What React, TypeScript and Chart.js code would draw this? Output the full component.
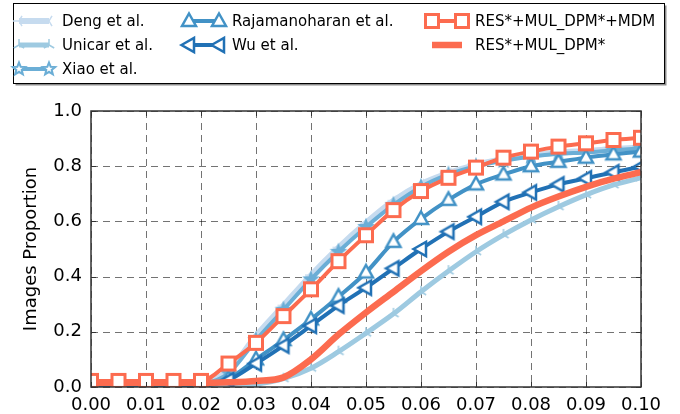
import React, { useEffect, useRef } from 'react';
import { Chart, registerables } from 'chart.js';

Chart.register(...registerables);

// ---------- data ----------
const xValues = [0, 0.005, 0.01, 0.015, 0.02, 0.025, 0.03, 0.035, 0.04, 0.045, 0.05,
  0.055, 0.06, 0.065, 0.07, 0.075, 0.08, 0.085, 0.09, 0.095, 0.1];

const dengValues = [0.005, 0.005, 0.005, 0.005, 0.012, 0.06, 0.185, 0.295, 0.405, 0.505, 0.595,
  0.675, 0.735, 0.775, 0.805, 0.825, 0.84, 0.85, 0.855, 0.862, 0.868];
const unicarValues = [0.003, 0.003, 0.003, 0.003, 0.003, 0.004, 0.01, 0.03, 0.068, 0.128, 0.195,
  0.265, 0.345, 0.42, 0.49, 0.551, 0.605, 0.653, 0.696, 0.732, 0.758];
const xiaoValues = [0.005, 0.005, 0.005, 0.005, 0.01, 0.05, 0.17, 0.28, 0.39, 0.49, 0.58,
  0.66, 0.725, 0.77, 0.80, 0.82, 0.835, 0.845, 0.85, 0.858, 0.865];
const rajaValues = [0.003, 0.003, 0.003, 0.003, 0.005, 0.03, 0.10, 0.17, 0.245, 0.327, 0.415,
  0.526, 0.609, 0.678, 0.734, 0.77, 0.80, 0.816, 0.831, 0.843, 0.853];
const wuValues = [0.003, 0.003, 0.003, 0.003, 0.005, 0.025, 0.085, 0.15, 0.222, 0.295, 0.36,
  0.43, 0.5, 0.563, 0.617, 0.671, 0.705, 0.734, 0.756, 0.778, 0.798];
const mdmValues = [0.022, 0.022, 0.022, 0.022, 0.022, 0.085, 0.16, 0.257, 0.354, 0.456, 0.55,
  0.641, 0.71, 0.758, 0.795, 0.831, 0.853, 0.871, 0.883, 0.895, 0.903];
const resValues = [0.015, 0.015, 0.015, 0.015, 0.015, 0.017, 0.022, 0.035, 0.10, 0.19, 0.27,
  0.345, 0.42, 0.49, 0.55, 0.60, 0.65, 0.69, 0.725, 0.755, 0.778];

const seriesNames = ['Deng et al.', 'Unicar et al.', 'Xiao et al.', 'Rajamanoharan et al.', 'Wu et al.',
  'RES*+MUL_DPM*+MDM', 'RES*+MUL_DPM*'];

const xTicks = [0, 0.01, 0.02, 0.03, 0.04, 0.05, 0.06, 0.07, 0.08, 0.09, 0.1];
const yTicks = [0, 0.2, 0.4, 0.6, 0.8, 1.0];

const yAxisTitle = 'Images Proportion';

// ---------- styles ----------
const FONT = "'DejaVu Sans', 'Liberation Sans', sans-serif";
const C_DENG = '#c6dbef';
const C_UNICAR = '#9ecae1';
const C_XIAO = '#6baed6';
const C_RAJA = '#4292c6';
const C_WU = '#2171b5';
const C_RED = '#fc6b4f';

type MarkerKind = 'triLeftBranch' | 'triUpBranch' | 'star' | 'triUp' | 'triLeft' | 'square' | 'none';

function makeMarker(kind: MarkerKind, color: string, fill: string): HTMLCanvasElement | false {
  if (kind === 'none') return false;
  const S = 22;
  const cv = document.createElement('canvas');
  cv.width = S; cv.height = S;
  const ctx = cv.getContext('2d')!;
  ctx.translate(S / 2, S / 2);
  ctx.strokeStyle = color;
  ctx.fillStyle = fill;
  ctx.lineJoin = 'miter';
  const poly = (pts: number[][], lw: number) => {
    ctx.beginPath();
    pts.forEach((p, i) => (i ? ctx.lineTo(p[0], p[1]) : ctx.moveTo(p[0], p[1])));
    ctx.closePath();
    ctx.fill();
    ctx.lineWidth = lw;
    ctx.stroke();
  };
  const branches = (pts: number[][], lw: number) => {
    ctx.lineWidth = lw;
    ctx.beginPath();
    pts.forEach((p) => { ctx.moveTo(0, 0); ctx.lineTo(p[0], p[1]); });
    ctx.stroke();
  };
  if (kind === 'square') {
    poly([[-6.5, -6.5], [6.5, -6.5], [6.5, 6.5], [-6.5, 6.5]], 3);
  } else if (kind === 'triUp') {
    poly([[0, -7.5], [7, 5], [-7, 5]], 2.5);
  } else if (kind === 'triLeft') {
    poly([[-7.5, 0], [5, -7], [5, 7]], 2.5);
  } else if (kind === 'star') {
    const pts: number[][] = [];
    for (let i = 0; i < 10; i++) {
      const r = i % 2 === 0 ? 6.5 : 2.8;
      const a = -Math.PI / 2 + (i * Math.PI) / 5;
      pts.push([r * Math.cos(a), r * Math.sin(a)]);
    }
    poly(pts, 2);
  } else if (kind === 'triUpBranch') {
    branches([[0, -6], [-5.2, 3], [5.2, 3]], 1.5);
  } else if (kind === 'triLeftBranch') {
    branches([[-6, 0], [3, -5.2], [3, 5.2]], 1.5);
  }
  return cv;
}

const seriesStyles: { color: string; width: number; marker: MarkerKind; order: number; plotFill: string }[] = [
  { color: C_DENG, width: 6, marker: 'triLeftBranch', order: 6, plotFill: '#ffffff' },
  { color: C_UNICAR, width: 5, marker: 'triUpBranch', order: 5, plotFill: '#ffffff' },
  { color: C_XIAO, width: 4, marker: 'star', order: 4, plotFill: C_XIAO },
  { color: C_RAJA, width: 4, marker: 'triUp', order: 3, plotFill: '#ffffff' },
  { color: C_WU, width: 4, marker: 'triLeft', order: 2, plotFill: '#ffffff' },
  { color: C_RED, width: 4, marker: 'square', order: 0, plotFill: '#ffffff' },
  { color: C_RED, width: 6.5, marker: 'none', order: 1, plotFill: '#ffffff' },
];

const seriesValues = [dengValues, unicarValues, xiaoValues, rajaValues, wuValues, mdmValues, resValues];

export default function App() {
  const canvasRef = useRef<HTMLCanvasElement | null>(null);

  useEffect(() => {
    if (!canvasRef.current) return;
    const plotMarkers = seriesStyles.map((s) => makeMarker(s.marker, s.color, s.plotFill));
    const legendMarkers = seriesStyles.map((s) => makeMarker(s.marker, s.color, '#ffffff'));

    const datasets = seriesNames.map((name, i) => ({
      label: name,
      data: xValues.map((x, j) => ({ x, y: seriesValues[i][j] })),
      borderColor: seriesStyles[i].color,
      backgroundColor: seriesStyles[i].color,
      borderWidth: seriesStyles[i].width,
      pointStyle: plotMarkers[i] || 'circle',
      pointRadius: plotMarkers[i] ? 7 : 0,
      pointHoverRadius: plotMarkers[i] ? 7 : 0,
      cubicInterpolationMode: 'monotone' as const,
      order: seriesStyles[i].order,
      clip: 0,
      fill: false,
    }));

    const gridPlugin = {
      id: 'dashGrid',
      beforeDatasetsDraw(chart: any) {
        const { ctx, chartArea: a, scales } = chart;
        ctx.save();
        ctx.strokeStyle = 'rgba(0,0,0,0.55)';
        ctx.lineWidth = 1;
        ctx.setLineDash([7, 5]);
        xTicks.forEach((v) => {
          const x = Math.round(scales.x.getPixelForValue(v)) + 0.5;
          ctx.beginPath(); ctx.moveTo(x, a.top); ctx.lineTo(x, a.bottom); ctx.stroke();
        });
        yTicks.forEach((v) => {
          const y = Math.round(scales.y.getPixelForValue(v)) + 0.5;
          ctx.beginPath(); ctx.moveTo(a.left, y); ctx.lineTo(a.right, y); ctx.stroke();
        });
        ctx.restore();
      },
    };

    const framePlugin = {
      id: 'frame',
      afterDatasetsDraw(chart: any) {
        const { ctx, chartArea: a, scales } = chart;
        ctx.save();
        ctx.setLineDash([]);
        ctx.strokeStyle = '#333333';
        ctx.lineWidth = 1.5;
        ctx.strokeRect(a.left, a.top, a.right - a.left, a.bottom - a.top);
        ctx.lineWidth = 1;
        const L = 5;
        xTicks.forEach((v) => {
          const x = Math.round(scales.x.getPixelForValue(v)) + 0.5;
          ctx.beginPath();
          ctx.moveTo(x, a.bottom); ctx.lineTo(x, a.bottom - L);
          ctx.moveTo(x, a.top); ctx.lineTo(x, a.top + L);
          ctx.stroke();
        });
        yTicks.forEach((v) => {
          const y = Math.round(scales.y.getPixelForValue(v)) + 0.5;
          ctx.beginPath();
          ctx.moveTo(a.left, y); ctx.lineTo(a.left + L, y);
          ctx.moveTo(a.right, y); ctx.lineTo(a.right - L, y);
          ctx.stroke();
        });
        ctx.restore();
      },
    };

    const legendPlugin = {
      id: 'boxLegend',
      afterDraw(chart: any) {
        const ctx = chart.ctx as CanvasRenderingContext2D;
        ctx.save();
        const bx = 13.5, by = 3.5, bw = 651, bh = 80;
        ctx.fillStyle = 'rgba(0,0,0,0.45)';
        ctx.fillRect(bx + 2, by + 2, bw, bh);
        ctx.fillStyle = '#ffffff';
        ctx.fillRect(bx, by, bw, bh);
        ctx.strokeStyle = '#000000';
        ctx.lineWidth = 1;
        ctx.strokeRect(bx, by, bw, bh);

        const cols = [19, 189, 432];
        const rows = [21, 45, 69];
        const handleLen = 30;
        const layout = [[0, 0], [0, 1], [0, 2], [1, 0], [1, 1], [2, 0], [2, 1]];
        ctx.font = `15px ${FONT}`;
        ctx.textBaseline = 'middle';
        ctx.textAlign = 'left';
        seriesNames.forEach((name, i) => {
          const [c, r] = layout[i];
          const x0 = cols[c];
          const x1 = x0 + handleLen;
          const y = rows[r];
          const st = seriesStyles[i];
          ctx.strokeStyle = st.color;
          ctx.lineWidth = st.width;
          ctx.lineCap = 'butt';
          ctx.beginPath(); ctx.moveTo(x0, y); ctx.lineTo(x1, y); ctx.stroke();
          const m = legendMarkers[i];
          if (m) {
            ctx.drawImage(m, x0 - m.width / 2, y - m.height / 2);
            ctx.drawImage(m, x1 - m.width / 2, y - m.height / 2);
          }
          ctx.fillStyle = '#000000';
          ctx.fillText(name, x1 + 13, y + 1);
        });
        ctx.restore();
      },
    };

    const chart = new Chart(canvasRef.current, {
      type: 'line',
      data: { datasets: datasets as any },
      options: {
        responsive: false,
        animation: false,
        events: [],
        layout: { padding: { top: 111, right: 39, bottom: 0, left: 0 } },
        plugins: { legend: { display: false }, tooltip: { enabled: false } },
        scales: {
          x: {
            type: 'linear',
            min: 0,
            max: 0.1,
            afterBuildTicks: (s: any) => { s.ticks = xTicks.map((v) => ({ value: v })); },
            afterFit: (s: any) => { s.height = 27; },
            grid: { display: false, drawTicks: false },
            border: { display: false },
            ticks: {
              autoSkip: false,
              maxRotation: 0,
              padding: 8,
              color: '#000000',
              font: { family: FONT, size: 18 },
              callback: (v: any) => Number(v).toFixed(2),
            },
          },
          y: {
            type: 'linear',
            min: 0,
            max: 1,
            afterBuildTicks: (s: any) => { s.ticks = yTicks.map((v) => ({ value: v })); },
            afterFit: (s: any) => { s.width = 91; },
            grid: { display: false, drawTicks: false },
            border: { display: false },
            title: {
              display: true,
              text: yAxisTitle,
              color: '#000000',
              font: { family: FONT, size: 18 },
              padding: { top: 21, bottom: 0 },
            },
            ticks: {
              padding: 9,
              color: '#000000',
              font: { family: FONT, size: 18 },
              callback: (v: any) => Number(v).toFixed(1),
            },
          },
        },
      },
      plugins: [gridPlugin, framePlugin, legendPlugin],
    });
    return () => chart.destroy();
  }, []);

  return (
    <div style={{ position: 'absolute', left: 0, top: 0, width: 680, height: 414, background: '#ffffff' }}>
      <canvas ref={canvasRef} width={680} height={414} style={{ display: 'block' }} />
    </div>
  );
}
